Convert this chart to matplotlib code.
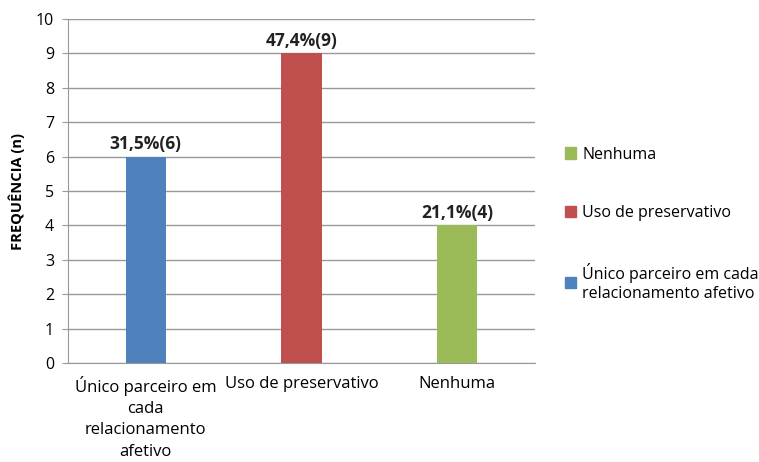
import matplotlib
matplotlib.use("Agg")
import matplotlib.pyplot as plt
from matplotlib.patches import Patch

plt.rcParams['font.family'] = ['Open Sans', 'DejaVu Sans']

categories = ["Único parceiro em\ncada\nrelacionamento\nafetivo", "Uso de preservativo", "Nenhuma"]
legend_names = ["Único parceiro em cada\nrelacionamento afetivo", "Uso de preservativo", "Nenhuma"]
values = [6, 9, 4]
labels = ["31,5%(6)", "47,4%(9)", "21,1%(4)"]
colors = ["#4F81BD", "#C0504D", "#9BBB59"]

fig = plt.figure(figsize=(7.59, 4.62), dpi=100)
ax = fig.add_axes([0.0896, 0.214, 0.705 - 0.0896, 0.959 - 0.214])

x = range(len(categories))
bars = ax.bar(x, values, width=0.26, color=colors, zorder=3)
for b, lab in zip(bars, labels):
    ax.text(b.get_x() + b.get_width() / 2, b.get_height() + 0.1, lab,
            ha='center', va='bottom', fontsize=12.5, fontweight='bold', color='#222222')

ax.set_xlim(-0.5, 2.5)
ax.set_ylim(0, 10)
ax.set_yticks(range(0, 11))
ax.yaxis.grid(True, color='#999999', linewidth=1.0, zorder=0)
ax.set_xticks(list(x))
ax.set_xticklabels(categories, fontsize=12, linespacing=1.45)
ax.tick_params(axis='x', length=0, pad=9)
ax.tick_params(axis='y', length=4, color='#999999', labelsize=11.5, pad=6)
for s in ['top', 'right']:
    ax.spines[s].set_visible(False)
ax.spines['left'].set_color('#999999')
ax.spines['bottom'].set_color('#999999')
ax.set_ylabel("FREQUÊNCIA (n)", fontsize=10.5, fontweight='bold', labelpad=8)

handles = [Patch(color=c) for c in colors]
leg = fig.legend(handles[::-1], legend_names[::-1], loc='center left',
                 bbox_to_anchor=(0.725, 0.515), frameon=False, fontsize=11.5,
                 handlelength=0.7, handleheight=0.7, handletextpad=0.4,
                 labelspacing=2.65)

fig.savefig("out.png", dpi=100)
